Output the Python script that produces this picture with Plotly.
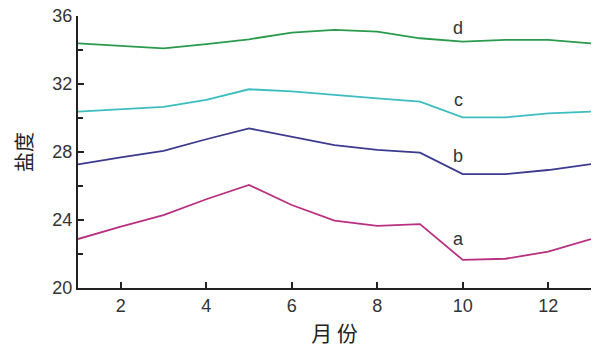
import plotly.graph_objects as go

# Monthly salinity profiles for four stations
months = list(range(1, 14))
salinity_a = [22.88, 23.61, 24.29, 25.22, 26.06, 24.88, 23.96, 23.65, 23.76, 21.65, 21.72, 22.14, 22.88]
salinity_b = [27.27, 27.69, 28.06, 28.75, 29.39, 28.90, 28.41, 28.12, 27.96, 26.70, 26.70, 26.94, 27.29]
salinity_c = [30.37, 30.53, 30.66, 31.06, 31.69, 31.57, 31.35, 31.16, 30.96, 30.04, 30.04, 30.27, 30.37]
salinity_d = [34.39, 34.25, 34.10, 34.35, 34.63, 35.02, 35.18, 35.08, 34.69, 34.49, 34.59, 34.59, 34.39]

series_names = ["a", "b", "c", "d"]
series_values = [salinity_a, salinity_b, salinity_c, salinity_d]
series_colors = ["#b8307f", "#3b3a8e", "#3cbdc0", "#2a9a4c"]
label_month = 9.9
label_values = [22.88, 27.76, 31.06, 35.29]

x_ticks = [2, 4, 6, 8, 10, 12]
y_ticks = [20, 24, 28, 32, 36]

fig = go.Figure()
for name, vals, col in zip(series_names, series_values, series_colors):
    fig.add_trace(go.Scatter(x=months, y=vals, mode="lines", name=name,
                             line=dict(color=col, width=1.8), showlegend=False))

for name, yv in zip(series_names, label_values):
    fig.add_annotation(x=label_month, y=yv, text=name, showarrow=False,
                       font=dict(size=18, color="#333333", family="Liberation Sans"),
                       xanchor="center", yanchor="middle")

axis_font = dict(size=18, color="#333333", family="Liberation Sans")
fig.update_xaxes(range=[1, 13], tickvals=x_ticks, ticks="inside", ticklen=6,
                 tickwidth=1.5, tickcolor="#222222", showline=True, linewidth=2,
                 linecolor="#222222", showgrid=False, zeroline=False,
                 tickfont=axis_font, automargin=False,
                 title=dict(text="月 份", font=dict(size=21, color="#222222",
                                                   family="Noto Sans CJK SC"), standoff=14))
fig.update_yaxes(range=[20, 36], tickvals=y_ticks, ticks="inside", ticklen=6,
                 tickwidth=1.5, tickcolor="#222222", showline=True, linewidth=2,
                 linecolor="#222222", showgrid=False, zeroline=False,
                 tickfont=axis_font, automargin=False,
                 minor=dict(tickvals=[22, 26, 30, 34], ticks="inside", ticklen=5,
                            tickwidth=1.5, tickcolor="#222222", showgrid=False),
                 title=dict(text="盐度", font=dict(size=20, color="#222222",
                                                 family="Noto Sans CJK SC"), standoff=14))

fig.update_layout(width=600, height=347, margin=dict(l=78, r=9, t=16, b=59),
                  plot_bgcolor="white", paper_bgcolor="white")

fig.write_html("out.html")
